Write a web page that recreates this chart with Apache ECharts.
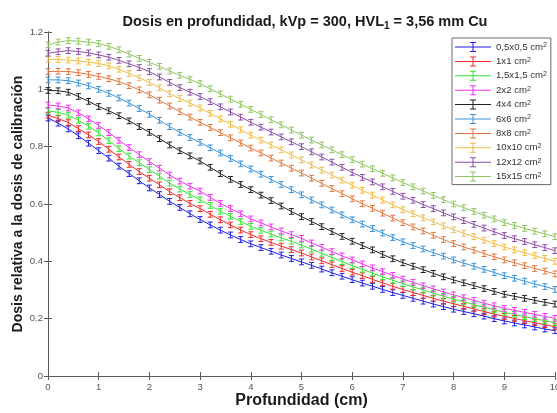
<!DOCTYPE html>
<html>
<head>
<meta charset="utf-8">
<script src="https://cdn.jsdelivr.net/npm/echarts@6/dist/echarts.min.js"></script>
<style>
  html, body { margin: 0; padding: 0; background: #fff; }
  #chart { width: 557px; height: 413px; }
</style>
</head>
<body>
<div id="chart"></div>
<script>
// Depth positions (cm)
const depth = [0, 0.2, 0.4, 0.6, 0.8, 1, 1.2, 1.4, 1.6, 1.8, 2, 2.2, 2.4, 2.6, 2.8, 3, 3.2, 3.4, 3.6, 3.8,
  4, 4.2, 4.4, 4.6, 4.8, 5, 5.2, 5.4, 5.6, 5.8, 6, 6.2, 6.4, 6.6, 6.8, 7, 7.2, 7.4, 7.6, 7.8,
  8, 8.2, 8.4, 8.6, 8.8, 9, 9.2, 9.4, 9.6, 9.8, 10];

// Relative dose per field size
const dose05 = [0.900, 0.882, 0.862, 0.838, 0.812, 0.786, 0.760, 0.732, 0.706, 0.681, 0.656, 0.633, 0.609, 0.588, 0.566, 0.546, 0.527, 0.509, 0.492, 0.476,
  0.461, 0.448, 0.435, 0.422, 0.410, 0.398, 0.386, 0.373, 0.360, 0.348, 0.336, 0.324, 0.313, 0.302, 0.291, 0.281, 0.271, 0.261, 0.251, 0.242,
  0.233, 0.225, 0.217, 0.209, 0.200, 0.192, 0.185, 0.178, 0.171, 0.164, 0.158];
const dose1 = [0.910, 0.898, 0.884, 0.863, 0.841, 0.818, 0.791, 0.764, 0.738, 0.713, 0.690, 0.667, 0.643, 0.622, 0.602, 0.584, 0.564, 0.545, 0.527, 0.509,
  0.493, 0.479, 0.466, 0.453, 0.441, 0.429, 0.415, 0.402, 0.388, 0.375, 0.362, 0.350, 0.337, 0.325, 0.313, 0.302, 0.291, 0.281, 0.271, 0.261,
  0.252, 0.243, 0.234, 0.225, 0.216, 0.208, 0.201, 0.193, 0.186, 0.179, 0.172];
const dose15 = [0.925, 0.920, 0.910, 0.892, 0.871, 0.848, 0.821, 0.793, 0.767, 0.744, 0.720, 0.697, 0.673, 0.652, 0.633, 0.615, 0.595, 0.575, 0.557, 0.539,
  0.522, 0.508, 0.495, 0.482, 0.470, 0.457, 0.442, 0.428, 0.413, 0.399, 0.385, 0.372, 0.359, 0.346, 0.334, 0.322, 0.311, 0.300, 0.289, 0.278,
  0.268, 0.259, 0.249, 0.240, 0.231, 0.222, 0.215, 0.207, 0.200, 0.193, 0.186];
const dose2 = [0.945, 0.942, 0.935, 0.918, 0.897, 0.874, 0.849, 0.822, 0.797, 0.772, 0.748, 0.725, 0.701, 0.680, 0.662, 0.645, 0.623, 0.602, 0.584, 0.566,
  0.548, 0.534, 0.520, 0.506, 0.493, 0.480, 0.464, 0.449, 0.434, 0.419, 0.405, 0.391, 0.377, 0.364, 0.351, 0.338, 0.327, 0.315, 0.304, 0.293,
  0.283, 0.273, 0.264, 0.254, 0.245, 0.236, 0.229, 0.222, 0.215, 0.208, 0.201];
const dose4 = [0.996, 0.995, 0.990, 0.975, 0.958, 0.940, 0.925, 0.908, 0.890, 0.870, 0.850, 0.828, 0.806, 0.786, 0.768, 0.750, 0.728, 0.706, 0.686, 0.668,
  0.650, 0.631, 0.612, 0.593, 0.574, 0.556, 0.539, 0.521, 0.504, 0.487, 0.470, 0.455, 0.440, 0.424, 0.409, 0.395, 0.383, 0.371, 0.358, 0.346,
  0.335, 0.325, 0.315, 0.305, 0.295, 0.285, 0.278, 0.271, 0.264, 0.257, 0.251];
const dose6 = [1.033, 1.033, 1.030, 1.022, 1.012, 1.000, 0.986, 0.970, 0.952, 0.933, 0.913, 0.892, 0.870, 0.850, 0.832, 0.815, 0.796, 0.778, 0.759, 0.740,
  0.722, 0.704, 0.686, 0.668, 0.650, 0.632, 0.614, 0.597, 0.579, 0.562, 0.545, 0.530, 0.514, 0.499, 0.483, 0.468, 0.455, 0.443, 0.430, 0.418,
  0.405, 0.394, 0.383, 0.372, 0.361, 0.350, 0.341, 0.331, 0.321, 0.312, 0.302];
const dose8 = [1.062, 1.063, 1.062, 1.058, 1.052, 1.045, 1.037, 1.027, 1.013, 0.998, 0.981, 0.962, 0.942, 0.922, 0.903, 0.885, 0.867, 0.849, 0.831, 0.813,
  0.795, 0.778, 0.760, 0.743, 0.725, 0.708, 0.690, 0.672, 0.654, 0.636, 0.618, 0.601, 0.585, 0.568, 0.551, 0.535, 0.520, 0.506, 0.491, 0.476,
  0.462, 0.450, 0.439, 0.427, 0.416, 0.405, 0.395, 0.385, 0.375, 0.366, 0.356];
const dose10 = [1.105, 1.104, 1.102, 1.099, 1.095, 1.090, 1.082, 1.070, 1.055, 1.040, 1.024, 1.005, 0.985, 0.968, 0.952, 0.935, 0.916, 0.897, 0.878, 0.859,
  0.840, 0.823, 0.806, 0.789, 0.771, 0.754, 0.736, 0.718, 0.701, 0.683, 0.665, 0.648, 0.631, 0.614, 0.597, 0.580, 0.566, 0.552, 0.538, 0.524,
  0.510, 0.498, 0.486, 0.474, 0.462, 0.450, 0.440, 0.430, 0.420, 0.410, 0.400];
const dose12 = [1.126, 1.131, 1.135, 1.132, 1.127, 1.120, 1.112, 1.101, 1.089, 1.076, 1.062, 1.043, 1.024, 1.006, 0.990, 0.975, 0.957, 0.939, 0.921, 0.903,
  0.885, 0.868, 0.851, 0.834, 0.817, 0.800, 0.782, 0.764, 0.746, 0.728, 0.710, 0.693, 0.677, 0.660, 0.644, 0.627, 0.613, 0.598, 0.584, 0.569,
  0.555, 0.542, 0.529, 0.516, 0.503, 0.490, 0.479, 0.469, 0.458, 0.448, 0.437];
const dose15x15 = [1.155, 1.165, 1.170, 1.168, 1.165, 1.160, 1.150, 1.138, 1.123, 1.108, 1.094, 1.080, 1.064, 1.049, 1.034, 1.020, 1.002, 0.984, 0.966, 0.948,
  0.930, 0.912, 0.894, 0.876, 0.858, 0.840, 0.823, 0.806, 0.789, 0.772, 0.755, 0.739, 0.723, 0.707, 0.691, 0.675, 0.660, 0.645, 0.630, 0.615,
  0.600, 0.587, 0.574, 0.561, 0.548, 0.535, 0.525, 0.515, 0.505, 0.496, 0.486];

// Uncertainty (half-width of error bar) per field size
const uncert = [0.010, 0.010, 0.010, 0.010, 0.010, 0.010, 0.010, 0.010, 0.010, 0.010];

const fieldNames = ['0,5x0,5', '1x1', '1,5x1,5', '2x2', '4x4', '6x6', '8x8', '10x10', '12x12', '15x15'];
const doseSets = [dose05, dose1, dose15, dose2, dose4, dose6, dose8, dose10, dose12, dose15x15];
const colors = ['#1f1fe6', '#f02828', '#33e633', '#f033f0', '#222222', '#3a92d8', '#e0783f', '#efbc45', '#8a4ea6', '#8fc45f'];

const xTicks = [0, 1, 2, 3, 4, 5, 6, 7, 8, 9, 10];
const yTicks = [0, 0.2, 0.4, 0.6, 0.8, 1, 1.2];

const FONT = '"Liberation Sans", Arial, sans-serif';
const legendIcon = 'path://M0,4.5h36v1h-36z M17.5,0.5h1v9h-1z M15,0h6v1h-6z M15,9h6v1h-6z';

const series = [];
fieldNames.forEach((nm, k) => {
  const name = nm + ' cm';
  // dose curve
  series.push({
    name: name,
    type: 'line',
    data: depth.map((x, i) => [x, doseSets[k][i]]),
    showSymbol: false,
    lineStyle: { width: 1, color: colors[k] },
    itemStyle: { color: colors[k], borderWidth: 0 },
    z: 2
  });
  // error bars with caps
  series.push({
    name: name + ' (error)',
    type: 'custom',
    data: depth.map((x, i) => [x, doseSets[k][i], uncert[k]]),
    renderItem: function (params, api) {
      const x = api.value(0), y = api.value(1), e = api.value(2);
      const top = api.coord([x, y + e]);
      const bot = api.coord([x, y - e]);
      const c = colors[k];
      const hw = 2.5;
      return {
        type: 'group',
        children: [
          { type: 'line', shape: { x1: top[0], y1: top[1], x2: bot[0], y2: bot[1] }, style: { stroke: c, lineWidth: 1 } },
          { type: 'line', shape: { x1: top[0] - hw, y1: top[1], x2: top[0] + hw, y2: top[1] }, style: { stroke: c, lineWidth: 1 } },
          { type: 'line', shape: { x1: bot[0] - hw, y1: bot[1], x2: bot[0] + hw, y2: bot[1] }, style: { stroke: c, lineWidth: 1 } }
        ]
      };
    },
    itemStyle: { color: colors[k] },
    z: 3
  });
});

const axisLine = { show: true, lineStyle: { color: '#5a5a5a', width: 1 } };
const axisTick = { show: true, inside: true, length: 4, lineStyle: { color: '#5a5a5a', width: 1 } };

const chart = echarts.init(document.getElementById('chart'), null, { renderer: 'canvas' });
chart.setOption({
  animation: false,
  backgroundColor: '#ffffff',
  title: {
    text: '{t|Dosis en profundidad, kVp = 300, HVL}{s|1}{t| = 3,56 mm Cu}',
    left: 300,
    top: 7,
    textAlign: 'center',
    textStyle: {
      rich: {
        t: { fontFamily: FONT, fontWeight: 'bold', fontSize: 14.5, color: '#1a1a1a' },
        s: { fontFamily: FONT, fontWeight: 'bold', fontSize: 10, color: '#1a1a1a', padding: [9, 0, 0, 0] }
      }
    }
  },
  legend: {
    orient: 'vertical',
    left: 452,
    top: 38,
    padding: [4, 4, 3, 3],
    itemGap: 4.4,
    itemWidth: 36,
    itemHeight: 10,
    backgroundColor: '#ffffff',
    borderColor: '#6a6a6a',
    borderWidth: 1,
    borderRadius: 0,
    icon: legendIcon,
    itemStyle: { borderWidth: 0 },
    lineStyle: { width: 0, opacity: 0 },
    data: fieldNames.map(n => ({ name: n + ' cm', icon: legendIcon })),
    formatter: function (name) { return '{a|' + name + '}{b|2}'; },
    textStyle: {
      lineHeight: 10,
      rich: {
        a: { fontFamily: FONT, fontSize: 9.6, color: '#333333', lineHeight: 10 },
        b: { fontFamily: FONT, fontSize: 7, color: '#333333', lineHeight: 4, verticalAlign: 'top' }
      }
    },
    selectedMode: false
  },
  grid: { left: 48, right: 2, top: 32, bottom: 37, containLabel: false, outerBoundsMode: 'none' },
  xAxis: [{
    type: 'value',
    min: 0, max: 10, interval: 1,
    position: 'bottom',
    name: 'Profundidad (cm)',
    nameLocation: 'middle',
    nameGap: 17,
    nameMoveOverlap: false,
    nameTextStyle: { fontFamily: FONT, fontWeight: 'bold', fontSize: 16, color: '#1a1a1a' },
    axisLine: axisLine,
    axisTick: axisTick,
    axisLabel: { fontFamily: FONT, fontSize: 9.5, color: '#555555', margin: 6,
      formatter: v => xTicks.includes(v) ? String(v) : '' },
    splitLine: { show: false }
  }, {
    type: 'value',
    min: 0, max: 10, interval: 1,
    position: 'top',
    axisLine: axisLine,
    axisTick: axisTick,
    axisLabel: { show: false },
    splitLine: { show: false }
  }],
  yAxis: [{
    type: 'value',
    min: 0, max: 1.2, interval: 0.2,
    position: 'left',
    name: 'Dosis relativa a la dosis de calibración',
    nameLocation: 'middle',
    nameGap: 23,
    nameMoveOverlap: false,
    nameTextStyle: { fontFamily: FONT, fontWeight: 'bold', fontSize: 14, color: '#1a1a1a' },
    axisLine: axisLine,
    axisTick: axisTick,
    axisLabel: { fontFamily: FONT, fontSize: 9.5, color: '#555555', margin: 5,
      formatter: v => {
        const t = yTicks.find(q => Math.abs(q - v) < 1e-6);
        return t === undefined ? '' : String(+t.toFixed(1));
      } },
    splitLine: { show: false }
  }, {
    type: 'value',
    min: 0, max: 1.2, interval: 0.2,
    position: 'right',
    axisLine: axisLine,
    axisTick: axisTick,
    axisLabel: { show: false },
    splitLine: { show: false }
  }],
  series: series
});
</script>
</body>
</html>
